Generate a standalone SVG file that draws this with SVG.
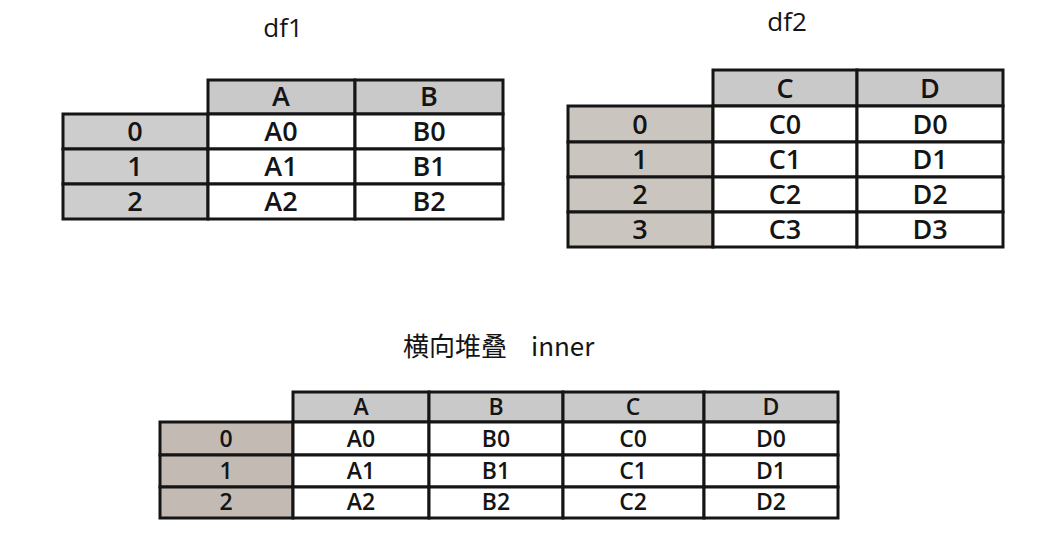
<svg xmlns="http://www.w3.org/2000/svg" width="1058" height="556" viewBox="0 0 1058 556">
<style>
.hd{fill:#c9c9c9;stroke:#151515;stroke-width:3}
.ix1{fill:#cdcdcd;stroke:#151515;stroke-width:3}
.ix2{fill:#cbc5c0;stroke:#151515;stroke-width:3}
.ix3{fill:#c2bab3;stroke:#151515;stroke-width:3}
.cl{fill:#ffffff;stroke:#151515;stroke-width:3}
text{font-family:"Open Sans","DejaVu Sans",sans-serif;fill:#141414;text-anchor:middle;font-weight:600}
.t{font-size:26px;font-weight:400}
.m{font-size:27px}
.s{font-size:23px}
.ti{font-size:26px;font-weight:400;text-anchor:start;font-family:"Noto Sans CJK SC","Open Sans",sans-serif}
</style>
<rect width="1058" height="556" fill="#ffffff"/>

<g id="df1">
  <text class="t" x="283" y="37">df1</text>
  <rect class="hd" x="208" y="80" width="147" height="34"/>
  <rect class="hd" x="355" y="80" width="148" height="34"/>
  <rect class="ix1" x="63" y="114" width="145" height="35"/>
  <rect class="ix1" x="63" y="149" width="145" height="35"/>
  <rect class="ix1" x="63" y="184" width="145" height="35"/>
  <rect class="cl" x="208" y="114" width="147" height="35"/>
  <rect class="cl" x="355" y="114" width="148" height="35"/>
  <rect class="cl" x="208" y="149" width="147" height="35"/>
  <rect class="cl" x="355" y="149" width="148" height="35"/>
  <rect class="cl" x="208" y="184" width="147" height="35"/>
  <rect class="cl" x="355" y="184" width="148" height="35"/>
  <text class="m" x="281" y="106">A</text>
  <text class="m" x="429" y="106">B</text>
  <text class="m" x="135" y="141">0</text>
  <text class="m" x="135" y="176">1</text>
  <text class="m" x="135" y="211">2</text>
  <text class="m" x="281" y="141">A0</text>
  <text class="m" x="429" y="141">B0</text>
  <text class="m" x="281" y="176">A1</text>
  <text class="m" x="429" y="176">B1</text>
  <text class="m" x="281" y="211">A2</text>
  <text class="m" x="429" y="211">B2</text>
</g>

<g id="df2">
  <text class="t" x="787" y="31">df2</text>
  <rect class="hd" x="713" y="70" width="144" height="36"/>
  <rect class="hd" x="857" y="70" width="146" height="36"/>
  <rect class="ix2" x="568" y="106" width="145" height="36"/>
  <rect class="ix2" x="568" y="142" width="145" height="35"/>
  <rect class="ix2" x="568" y="177" width="145" height="35"/>
  <rect class="ix2" x="568" y="212" width="145" height="35"/>
  <rect class="cl" x="713" y="106" width="144" height="36"/>
  <rect class="cl" x="857" y="106" width="146" height="36"/>
  <rect class="cl" x="713" y="142" width="144" height="35"/>
  <rect class="cl" x="857" y="142" width="146" height="35"/>
  <rect class="cl" x="713" y="177" width="144" height="35"/>
  <rect class="cl" x="857" y="177" width="146" height="35"/>
  <rect class="cl" x="713" y="212" width="144" height="35"/>
  <rect class="cl" x="857" y="212" width="146" height="35"/>
  <text class="m" x="785" y="98">C</text>
  <text class="m" x="930" y="98">D</text>
  <text class="m" x="640" y="134">0</text>
  <text class="m" x="640" y="169">1</text>
  <text class="m" x="640" y="204">2</text>
  <text class="m" x="640" y="239">3</text>
  <text class="m" x="785" y="134">C0</text>
  <text class="m" x="930" y="134">D0</text>
  <text class="m" x="785" y="169">C1</text>
  <text class="m" x="930" y="169">D1</text>
  <text class="m" x="785" y="204">C2</text>
  <text class="m" x="930" y="204">D2</text>
  <text class="m" x="785" y="239">C3</text>
  <text class="m" x="930" y="239">D3</text>
</g>

<g id="inner">
  <text class="ti" x="403" y="356">横向堆叠<tspan x="531">inner</tspan></text>
  <rect class="hd" x="293" y="392" width="136" height="30"/>
  <rect class="hd" x="429" y="392" width="134" height="30"/>
  <rect class="hd" x="563" y="392" width="141" height="30"/>
  <rect class="hd" x="704" y="392" width="134" height="30"/>
  <rect class="ix3" x="160" y="422" width="133" height="33"/>
  <rect class="ix3" x="160" y="455" width="133" height="32"/>
  <rect class="ix3" x="160" y="487" width="133" height="31"/>
  <rect class="cl" x="293" y="422" width="136" height="33"/>
  <rect class="cl" x="429" y="422" width="134" height="33"/>
  <rect class="cl" x="563" y="422" width="141" height="33"/>
  <rect class="cl" x="704" y="422" width="134" height="33"/>
  <rect class="cl" x="293" y="455" width="136" height="32"/>
  <rect class="cl" x="429" y="455" width="134" height="32"/>
  <rect class="cl" x="563" y="455" width="141" height="32"/>
  <rect class="cl" x="704" y="455" width="134" height="32"/>
  <rect class="cl" x="293" y="487" width="136" height="31"/>
  <rect class="cl" x="429" y="487" width="134" height="31"/>
  <rect class="cl" x="563" y="487" width="141" height="31"/>
  <rect class="cl" x="704" y="487" width="134" height="31"/>
  <text class="s" x="361" y="415">A</text>
  <text class="s" x="496" y="415">B</text>
  <text class="s" x="633" y="415">C</text>
  <text class="s" x="771" y="415">D</text>
  <text class="s" x="226" y="447">0</text>
  <text class="s" x="226" y="479">1</text>
  <text class="s" x="226" y="510">2</text>
  <text class="s" x="361" y="447">A0</text>
  <text class="s" x="496" y="447">B0</text>
  <text class="s" x="633" y="447">C0</text>
  <text class="s" x="771" y="447">D0</text>
  <text class="s" x="361" y="479">A1</text>
  <text class="s" x="496" y="479">B1</text>
  <text class="s" x="633" y="479">C1</text>
  <text class="s" x="771" y="479">D1</text>
  <text class="s" x="361" y="510">A2</text>
  <text class="s" x="496" y="510">B2</text>
  <text class="s" x="633" y="510">C2</text>
  <text class="s" x="771" y="510">D2</text>
</g>

<g id="connectors"></g>
</svg>
